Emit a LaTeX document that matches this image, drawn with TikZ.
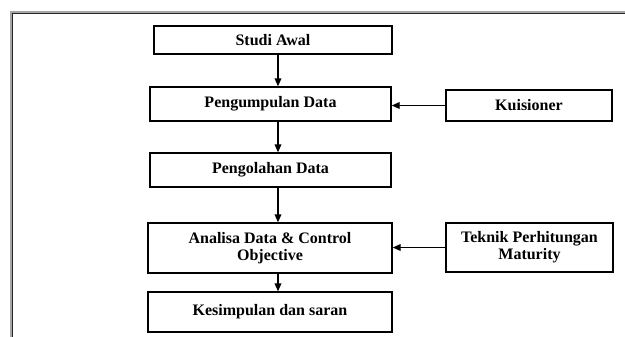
\documentclass[tikz,border=0pt]{standalone}
\usepackage{fontspec}
\setmainfont{Liberation Serif}
\usetikzlibrary{arrows.meta}
\tikzset{
	box/.style={draw,line width=1pt,inner sep=0pt,align=center,font=\bfseries\fontsize{12}{13}\selectfont},
	flow/.style={line width=1pt,->,>={Triangle[length=6pt,width=5pt]}}
}
\begin{document}
\begin{tikzpicture}[x=0.75pt,y=-0.75pt]
	\useasboundingbox (0,0) rectangle (625,336);
	% frame
	\draw[gray!70,line width=2.6pt] (11.5,340) -- (11.5,12.5) -- (630,12.5);
	\draw[black!85,line width=1pt] (12.5,340) -- (12.5,13.5) -- (630,13.5);
	% main column
	\node[box,minimum width=178.5pt,minimum height=21pt] (studi) at (273,40) {Studi Awal};
	\node[box,minimum width=180.75pt,minimum height=25.5pt] (kumpul) at (270.5,104) {Pengumpulan Data};
	\node[box,minimum width=180.75pt,minimum height=25.5pt] (olah) at (270.5,170) {Pengolahan Data};
	\node[box,minimum width=183pt,minimum height=37.5pt] (analisa) at (270,248) {Analisa Data \& Control\\Objective};
	\node[box,minimum width=183pt,minimum height=30pt] (simpul) at (270,312) {Kesimpulan dan saran};
	% inputs
	\node[box,minimum width=124.5pt,minimum height=23.25pt] (kuis) at (529,105.5) {Kuisioner};
	\node[box,minimum width=125.25pt,minimum height=36.75pt] (teknik) at (529.5,247.5) {Teknik Perhitungan\\Maturity};
	\coordinate (axis) at (278,0);
	\draw[flow] (studi.south -| axis) -- (kumpul.north -| axis);
	\draw[flow] (kumpul.south -| axis) -- (olah.north -| axis);
	\draw[flow] (olah.south -| axis) -- (analisa.north -| axis);
	\draw[flow] (analisa.south -| axis) -- (simpul.north -| axis);
	\draw[flow] (kuis.west) -- (kuis.west -| kumpul.east);
	\draw[flow] (teknik.west) -- (teknik.west -| analisa.east);
\end{tikzpicture}
\end{document}
